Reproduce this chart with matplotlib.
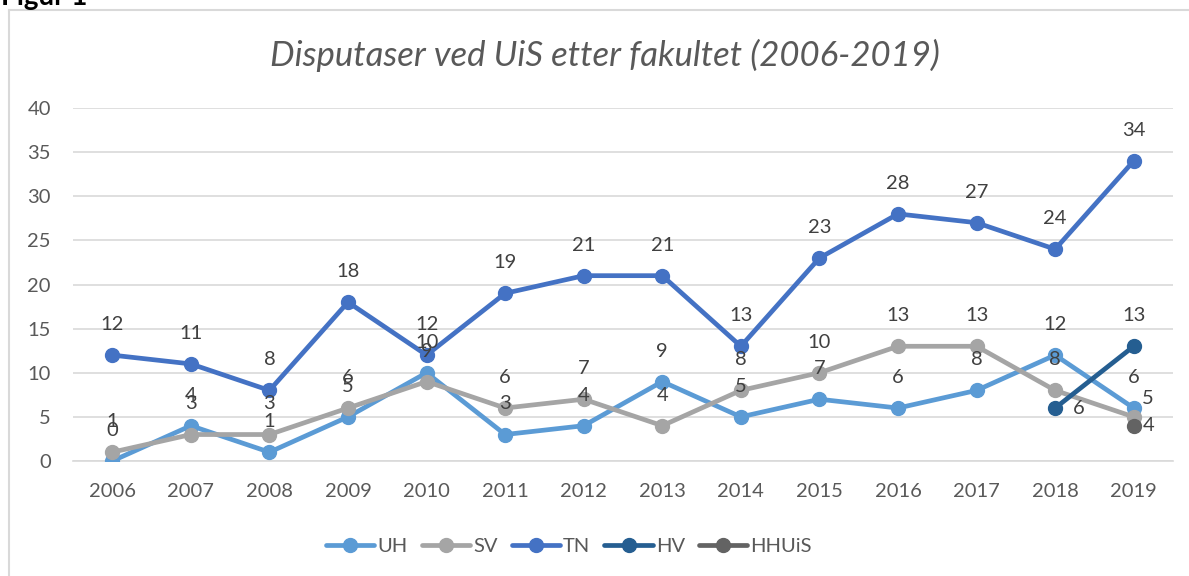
import numpy as np
import matplotlib
matplotlib.use("Agg")
import matplotlib.pyplot as plt
from matplotlib.lines import Line2D

plt.rcParams["font.family"] = ["Lato", "DejaVu Sans"]

years = ["2006", "2007", "2008", "2009", "2010", "2011", "2012",
         "2013", "2014", "2015", "2016", "2017", "2018", "2019"]
uh = [0, 4, 1, 5, 10, 3, 4, 9, 5, 7, 6, 8, 12, 6]
sv = [1, 3, 3, 6, 9, 6, 7, 4, 8, 10, 13, 13, 8, 5]
tn = [12, 11, 8, 18, 12, 19, 21, 21, 13, 23, 28, 27, 24, 34]
hv_years = ["2018", "2019"]
hv = [6, 13]
hhuis_years = ["2019"]
hhuis = [4]

series = [
    ("UH", years, uh, "#5B9BD5"),
    ("SV", years, sv, "#A5A5A5"),
    ("TN", years, tn, "#4472C4"),
    ("HV", hv_years, hv, "#255E91"),
    ("HHUiS", hhuis_years, hhuis, "#636363"),
]

# label placement overrides (points), default is above the marker
label_offsets = {
    ("HV", "2018"): (17, 0),
    ("SV", "2019"): (10, 13),
    ("HHUiS", "2019"): (11, 0),
}

fig = plt.figure(figsize=(11.89, 5.76), dpi=100)
ax = fig.add_axes([73 / 1189, 1 - 461 / 576, 1100 / 1189, 353 / 576])

xpos = {y: i for i, y in enumerate(years)}
handles = []
for name, yrs, vals, color in series:
    xs = [xpos[y] for y in yrs]
    h, = ax.plot(xs, vals, color=color, lw=3.4, marker="o", markersize=10,
                 solid_capstyle="round", label=name, zorder=3)
    handles.append(h)
    for y, x, v in zip(yrs, xs, vals):
        dx, dy = label_offsets.get((name, y), (0, 22))
        ax.annotate(str(v), (x, v), xytext=(dx, dy), textcoords="offset points",
                    ha="center", va="center", fontsize=14.5, color="#404040",
                    zorder=4)

ax.set_xlim(-0.5, len(years) - 0.5)
ax.set_ylim(0, 40)
ax.set_yticks(range(0, 41, 5))
ax.set_xticks(range(len(years)))
ax.set_xticklabels(years)
ax.tick_params(length=0, labelsize=14.5, labelcolor="#595959")
ax.tick_params(axis="x", pad=16)
ax.tick_params(axis="y", pad=16)
ax.grid(axis="y", color="#D9D9D9", lw=1.2)
ax.set_axisbelow(True)
for s in ["top", "right", "left"]:
    ax.spines[s].set_visible(False)
ax.spines["bottom"].set_color("#D9D9D9")
ax.spines["bottom"].set_linewidth(1.2)

fig.text(0.509, 1 - 55 / 576, "Disputaser ved UiS etter fakultet (2006-2019)",
         ha="center", va="center", fontsize=25, style="italic", color="#595959")

fig.legend(handles=handles, loc="center", bbox_to_anchor=(569 / 1189, 1 - 546 / 576),
           ncol=5, frameon=False, fontsize=14.5, handlelength=2.4,
           columnspacing=0.7, handletextpad=0.15, labelcolor="#595959")

# chart border (extends past the right and bottom edge)
fig.add_artist(Line2D([9 / 1189, 9 / 1189], [0, 1 - 10 / 576],
                      transform=fig.transFigure, color="#D9D9D9", lw=1.5))
fig.add_artist(Line2D([9 / 1189, 1], [1 - 10 / 576, 1 - 10 / 576],
                      transform=fig.transFigure, color="#D9D9D9", lw=1.5))

fig.text(1 / 1189, 1 - 5 / 576, "Figur 1", ha="left", va="baseline",
         fontsize=20, fontweight="bold", color="black")

fig.savefig("out.png", dpi=100)
